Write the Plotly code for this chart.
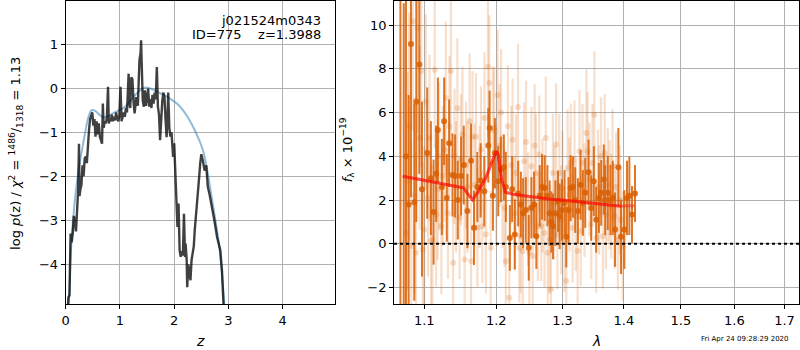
import math
import plotly.graph_objects as go

# ---------------- left panel: log p(z) ----------------
pz_z = [0.03, 0.05, 0.07, 0.09, 0.11, 0.13, 0.15, 0.17, 0.19, 0.21, 0.23, 0.245, 0.255, 0.27, 0.29,
        0.31, 0.33, 0.35, 0.37, 0.39, 0.41, 0.43, 0.45, 0.47, 0.49, 0.51, 0.53, 0.55, 0.57, 0.59,
        0.61, 0.63, 0.65, 0.67, 0.685, 0.70, 0.72, 0.74, 0.76, 0.78, 0.795, 0.81, 0.83, 0.85, 0.87,
        0.89, 0.91, 0.93, 0.95, 0.97, 0.99, 1.01, 1.03, 1.05, 1.07, 1.09, 1.11, 1.13, 1.16, 1.175,
        1.19, 1.21, 1.23, 1.25, 1.27, 1.285, 1.30, 1.33, 1.36, 1.38, 1.39, 1.40, 1.42, 1.44, 1.46,
        1.48, 1.50, 1.52, 1.54, 1.56, 1.58, 1.60, 1.62, 1.64, 1.66, 1.68, 1.70, 1.72, 1.74, 1.76,
        1.78, 1.80, 1.82, 1.84, 1.86, 1.88, 1.89, 1.91, 1.93, 1.95, 1.97, 1.98, 2.00, 2.02, 2.03,
        2.05, 2.06, 2.08, 2.10, 2.12, 2.14, 2.16, 2.18, 2.20, 2.21, 2.23, 2.24, 2.26, 2.28, 2.30,
        2.32, 2.34, 2.36, 2.38, 2.40, 2.43, 2.46, 2.48, 2.50, 2.53, 2.56, 2.59, 2.62, 2.65, 2.70,
        2.74, 2.79, 2.82, 2.85, 2.88, 2.90, 2.92]
pz_logp = [-5.2, -4.75, -4.7, -3.3, -3.5, -3.3, -2.9, -3.0, -3.25, -2.6, -2.3, -1.26, -2.45, -2.3, -2.2,
           -1.75, -2.0, -1.6, -1.55, -1.7, -1.2, -0.95, -0.7, -0.6, -0.55, -0.85, -0.7, -1.1, -0.75, -1.05,
           -0.8, -1.1, -1.2, -1.26, -0.35, -0.9, -0.75, -0.8, -0.65, 0.03, -0.8, -0.7, -0.75, -0.6, -0.75,
           -0.65, -0.73, -0.55, -0.7, -0.75, -0.6, 0.03, -0.75, -0.6, -0.55, -0.65, -0.45, -0.55, 0.33, -0.35,
           -0.45, 0.25, 0.2, -0.3, -0.57, -0.4, -0.2, -0.4, 0.64, 0.8, 1.09, 0.6, -0.27, -0.42, -0.05,
           -0.4, -0.15, -0.01, -0.42, -0.25, -0.45, -0.15, -0.35, -0.1, -0.25, 0.48, -0.42, -0.6, -1.18, -0.6,
           -0.3, -0.1, -0.2, -0.7, -1.11, -0.5, -0.1, -0.9, -1.1, -1.0, -1.3, -1.56, -1.25, -1.8, -2.02,
           -2.7, -3.15, -2.62, -3.68, -3.83, -3.7, -3.8, -2.85, -3.83, -3.53, -3.9, -4.52, -4.0, -4.2, -4.36,
           -3.9, -3.68, -3.6, -3.2, -2.85, -2.55, -2.02, -1.7, -1.5, -1.65, -1.87, -1.75, -2.24, -2.4, -2.7,
           -3.0, -3.38, -3.53, -3.68, -4.14, -4.74, -5.2]

prior_z = [0.05, 0.08, 0.11, 0.15, 0.2, 0.25, 0.3, 0.36, 0.42, 0.48, 0.55, 0.62, 0.7, 0.78, 0.86,
           0.95, 1.05, 1.15, 1.25, 1.35, 1.45, 1.55, 1.65, 1.75, 1.85, 1.95, 2.05, 2.15, 2.25, 2.35,
           2.45, 2.53, 2.6, 2.66, 2.72, 2.78, 2.83, 2.87, 2.9, 2.94]
prior_logp = [-5.2, -4.2, -3.4, -2.8, -2.2, -1.75, -1.4, -1.0, -0.65, -0.5, -0.52, -0.6, -0.66, -0.64, -0.58,
              -0.52, -0.46, -0.35, -0.2, -0.07, 0.01, 0.0, -0.06, -0.12, -0.18, -0.26, -0.35, -0.48, -0.66, -0.88,
              -1.15, -1.41, -1.8, -2.24, -2.7, -3.15, -3.6, -4.06, -4.5, -5.2]

# ---------------- right panel: spectrum ----------------
light_lam = [1.076, 1.078, 1.080, 1.083, 1.085, 1.087, 1.089, 1.091, 1.094, 1.096,
             1.098, 1.100, 1.102, 1.105, 1.107, 1.109, 1.111, 1.114, 1.116, 1.118,
             1.120, 1.123, 1.125, 1.127, 1.129, 1.132, 1.134, 1.136, 1.139, 1.141,
             1.143, 1.145, 1.148, 1.150, 1.152, 1.155, 1.157, 1.159, 1.162, 1.164,
             1.166, 1.169, 1.171, 1.173, 1.176, 1.178, 1.180, 1.183, 1.185, 1.188,
             1.190, 1.192, 1.195, 1.197, 1.200, 1.202, 1.205, 1.207, 1.209, 1.212,
             1.214, 1.217, 1.219, 1.222, 1.224, 1.227, 1.229, 1.232, 1.234, 1.236,
             1.239, 1.241, 1.244, 1.247, 1.249, 1.252, 1.254, 1.257, 1.259, 1.262,
             1.264, 1.267, 1.269, 1.272, 1.274, 1.277, 1.280, 1.282, 1.285, 1.287,
             1.290, 1.292, 1.295, 1.298, 1.300, 1.303, 1.306, 1.308, 1.311, 1.313,
             1.316, 1.319, 1.321, 1.324, 1.327, 1.329, 1.332, 1.335, 1.338, 1.340,
             1.343, 1.346, 1.348, 1.351, 1.354, 1.357, 1.359, 1.362, 1.365, 1.368,
             1.370, 1.373, 1.376, 1.379, 1.381, 1.384, 1.387, 1.390, 1.393, 1.395, 1.398]
light_flux = [0.5, 2.86, 5.37, -0.1, 10.17, 2.2, -0.41, 9.86, 4.84, 7.9,
              -0.26, 0.65, 6.5, 2.1, 4.84, 0.12, 0.2, 7.96, 1.34, 2.48,
              4.0, 0.8, 3.1, 4.3, 6.67, 1.4, 5.37, 7.9, -0.87, 4.0,
              2.6, 6.2, 1.19, 3.85, 5.0, -0.72, 3.6, 2.6, 5.6, -0.8,
              4.9, 2.7, 4.9, 0.73, 2.6, 4.3, 0.8, 5.75, 0.43, 8.1,
              7.35, -0.18, 5.2, 5.3, 2.6, 6.8, 4.5, 6.0, 2.4, 1.64,
              -0.8, 5.37, -2.47, 3.6, 4.76, 1.4, 3.24, 6.25, -0.18, 0.35,
              -0.33, 3.77, 4.66, 1.57, -0.41, 3.55, -0.56, 4.5, 3.24, 0.8,
              4.08, 0.8, 2.2, 0.5, 4.84, -0.41, 0.2, -2.08, 3.24, 1.87,
              4.54, 0.43, 3.24, 1.1, 2.56, 0.2, -1.7, 3.47, 2.25, 3.7,
              0.73, 3.85, 1.26, -0.33, 4.23, 0.58, 3.7, 2.0, 5.07, 4.23,
              2.94, 0.88, 3.7, 5.9, 0.27, 2.6, 2.0, 4.0, 0.35, 4.15,
              1.34, 2.7, 2.25, 1.72, 3.55, 1.26, 2.6, 0.2, 2.0, 1.1, -0.1]
light_err = [5.5, 5.0, 5.2, 4.8, 5.0, 4.5, 4.6, 4.8, 4.2, 4.4,
             4.0, 3.8, 4.0, 3.6, 3.8, 3.5, 3.4, 3.6, 3.3, 3.2,
             3.4, 3.1, 3.2, 3.3, 3.5, 3.0, 3.2, 3.4, 2.9, 3.1,
             3.0, 3.2, 2.8, 3.0, 3.1, 2.8, 2.9, 3.0, 3.1, 2.7,
             3.0, 2.8, 2.9, 2.7, 2.8, 2.9, 2.6, 3.0, 2.7, 3.2,
             3.1, 2.6, 2.9, 2.8, 2.7, 3.0, 2.8, 2.9, 2.6, 2.7,
             2.6, 2.8, 2.5, 2.7, 2.8, 2.6, 2.7, 2.9, 2.5, 2.6,
             2.5, 2.7, 2.8, 2.6, 2.5, 2.7, 2.5, 2.8, 2.7, 2.5,
             2.7, 2.5, 2.6, 2.5, 2.8, 2.4, 2.5, 2.4, 2.7, 2.6,
             2.8, 2.5, 2.7, 2.5, 2.6, 2.4, 2.5, 2.7, 2.6, 2.7,
             2.5, 2.7, 2.5, 2.4, 2.8, 2.5, 2.7, 2.6, 2.9, 2.7,
             2.6, 2.5, 2.7, 2.9, 2.5, 2.6, 2.5, 2.7, 2.4, 2.7,
             2.5, 2.6, 2.5, 2.4, 2.6, 2.4, 2.5, 2.3, 2.5, 2.4, 2.5]

dark_lam = [1.0688, 1.0731, 1.0760, 1.0795, 1.0825, 1.0869, 1.0895, 1.0935, 1.0970, 1.1040,
            1.1089, 1.1125, 1.1160, 1.1183, 1.1237, 1.1268, 1.1304, 1.1336, 1.1382, 1.1418,
            1.1455, 1.1501, 1.1538, 1.1589, 1.1640, 1.1682, 1.1729, 1.1776, 1.1828, 1.1885,
            1.1904, 1.1952, 1.1981, 1.2029, 1.2067, 1.2111, 1.2140, 1.2199, 1.2233, 1.2272,
            1.2322, 1.2362, 1.2396, 1.2436, 1.2481, 1.2521, 1.2561, 1.2596, 1.2647, 1.2683,
            1.2724, 1.2765, 1.2800, 1.2826, 1.2852, 1.2888, 1.2929, 1.2955, 1.2991, 1.3033,
            1.3059, 1.3096, 1.3127, 1.3165, 1.3201, 1.3244, 1.3287, 1.3324, 1.3362, 1.3416,
            1.3459, 1.3502, 1.3540, 1.3584, 1.3622, 1.3665, 1.3687, 1.3731, 1.3775, 1.3814,
            1.3853, 1.3908, 1.3953, 1.4009, 1.4054, 1.4094, 1.4139, 1.4190]
dark_flux = [12.0, -3.0, 4.0,
             1.8, 9.13, 1.9, 6.5, 8.2, 2.5, 4.15, 3.0, 1.45, 3.2,
             5.2, 2.6, 5.6, 2.1, 4.6, 3.15, 3.1, 2.0, 3.1, 3.6,
             1.5, 3.8, 0.73, 2.6, 2.9, 2.4, 4.5, 5.3, 2.2, 4.15,
             2.86, 3.4, 3.5, 2.6, 0.27, 2.5, 0.43, 2.3, 1.8, 1.4,
             1.55, -0.18, 1.65, 1.8, 0.35, 2.2, 2.6, 2.55, 2.2, 1.4,
             1.0, 0.8, 1.4, 1.95, 1.26, 1.55, 1.87, 0.32, 1.55, 2.55,
             2.6, 2.0, 1.5, 2.7, 1.87, 2.33, 3.27, 1.64, 2.86, 1.1,
             2.1, 2.33, 2.94, 2.0, 2.33, 2.0, 2.1, 0.65, 3.5, 0.32,
             0.65, 2.1, 2.2, 1.34, 2.3]
dark_err = [15.0, 14.0, 10.0, 5.0, 7.0, 4.5, 5.5, 5.0, 4.0, 3.0,
            2.6, 2.4, 2.2, 2.4, 2.2, 2.0, 2.0, 2.0, 1.9, 1.9,
            1.8, 1.8, 1.8, 1.7, 1.7, 1.7, 1.6, 1.7, 1.6, 1.7,
            1.7, 1.6, 1.6, 1.6, 1.5, 1.5, 1.6, 1.5, 1.5, 1.6,
            1.5, 1.5, 1.6, 1.5, 1.5, 1.4, 1.5, 1.5, 1.4, 1.5,
            1.5, 1.4, 1.5, 1.4, 1.5, 1.5, 1.4, 1.5, 1.4, 1.5,
            1.4, 1.5, 1.5, 1.4, 1.5, 1.5, 1.6, 1.5, 1.6, 1.5,
            1.5, 1.6, 1.5, 1.6, 1.5, 1.6, 1.6, 1.7, 1.6, 1.7,
            1.7, 1.8, 1.7, 1.8, 1.7, 1.8, 1.3, 1.3]

model_lam = [1.0718, 1.0840, 1.1102, 1.1327, 1.1535, 1.1584, 1.1659, 1.1744, 1.1838, 1.1933,
             1.2000, 1.2029, 1.2077, 1.2135, 1.2272, 1.2521, 1.2774, 1.3033, 1.3298, 1.3567,
             1.3841, 1.3953, 1.4080, 1.4180]
model_flux = [3.09, 3.01, 2.86, 2.71, 2.56, 2.33, 2.02, 2.4, 2.94, 3.7,
              4.23, 4.08, 2.94, 2.36, 2.25, 2.15, 2.05, 1.99, 1.92, 1.84,
              1.77, 1.72, 1.74, 1.74]
model_short_end = 22  # first model only covers up to 1.395

lam_ticks = [1.1, 1.2, 1.3, 1.4, 1.5, 1.6, 1.7]

FONT = "DejaVu Sans"
ORANGE_DARK = "rgba(217,95,2,0.85)"
ORANGE_LIGHT = "rgba(217,95,2,0.2)"

fig = go.Figure()

fig.add_trace(go.Scatter(x=prior_z, y=prior_logp, mode="lines",
                         line=dict(color="rgba(31,119,180,0.5)", width=2, shape="spline"),
                         xaxis="x", yaxis="y", showlegend=False, hoverinfo="skip"))
fig.add_trace(go.Scatter(x=pz_z, y=pz_logp, mode="lines",
                         line=dict(color="rgba(0,0,0,0.75)", width=2.4),
                         xaxis="x", yaxis="y", showlegend=False))

fig.add_trace(go.Scatter(x=light_lam, y=light_flux, mode="markers",
                         marker=dict(color=ORANGE_LIGHT, size=6),
                         error_y=dict(type="data", array=light_err, color=ORANGE_LIGHT,
                                      thickness=2.2, width=0),
                         xaxis="x2", yaxis="y2", showlegend=False))
fig.add_trace(go.Scatter(x=dark_lam, y=dark_flux, mode="markers",
                         marker=dict(color=ORANGE_DARK, size=6),
                         error_y=dict(type="data", array=dark_err, color=ORANGE_DARK,
                                      thickness=2, width=0),
                         xaxis="x2", yaxis="y2", showlegend=False))
fig.add_trace(go.Scatter(x=model_lam[:model_short_end], y=model_flux[:model_short_end], mode="lines",
                         line=dict(color="rgba(255,0,0,0.45)", width=3),
                         xaxis="x2", yaxis="y2", showlegend=False))
fig.add_trace(go.Scatter(x=model_lam, y=model_flux, mode="lines",
                         line=dict(color="rgba(255,0,0,0.4)", width=3),
                         xaxis="x2", yaxis="y2", showlegend=False))

axis_style = dict(showline=True, linecolor="black", linewidth=1, mirror=True,
                  ticks="outside", ticklen=4, tickwidth=1, tickcolor="black",
                  showgrid=True, gridcolor="#b0b0b0", gridwidth=1, zeroline=False,
                  tickfont=dict(family=FONT, size=13, color="black"))

ytop = 349 / 350
ybot = 46 / 350

fig.update_layout(
    width=800, height=350,
    margin=dict(l=0, r=0, t=0, b=0),
    paper_bgcolor="white", plot_bgcolor="white",
    font=dict(family=FONT, size=13, color="black"),
    xaxis=dict(domain=[62 / 800, 333 / 800], range=[0, 4.97], tick0=0, dtick=1,
               anchor="y", **axis_style),
    yaxis=dict(domain=[ybot, ytop], range=[-4.9, 1.98], tick0=0, dtick=1,
               anchor="x", **axis_style),
    xaxis2=dict(domain=[392 / 800, 799 / 800], type="log",
                range=[math.log10(1.0606), math.log10(1.730)],
                tickvals=lam_ticks, ticktext=[str(v) for v in lam_ticks],
                anchor="y2", **axis_style),
    yaxis2=dict(domain=[ybot, ytop], range=[-2.75, 11.1], tick0=0, dtick=2,
                anchor="x2", **axis_style),
    shapes=[dict(type="line", xref="x2 domain", yref="y2", x0=0, x1=1, y0=0, y1=0,
                 line=dict(color="black", width=2, dash="dot"), layer="above")],
    annotations=[
        dict(text="j021524m0343", xref="paper", yref="paper", x=321 / 800, y=1 - 20 / 350,
             xanchor="right", yanchor="middle", showarrow=False, font=dict(size=13)),
        dict(text="ID=775    z=1.3988", xref="paper", yref="paper", x=321 / 800, y=1 - 35 / 350,
             xanchor="right", yanchor="middle", showarrow=False, font=dict(size=13)),
        dict(text="<i>z</i>", xref="paper", yref="paper", x=197 / 800, y=1 - 341 / 350,
             xanchor="center", yanchor="middle", showarrow=False, font=dict(size=14)),
        dict(text="<i>λ</i>", xref="paper", yref="paper", x=595 / 800, y=1 - 341 / 350,
             xanchor="center", yanchor="middle", showarrow=False, font=dict(size=14)),
        dict(text="log <i>p</i>(z) / <i>χ</i><sup>2</sup> = <sup>1486</sup>/<sub>1318</sub> = 1.13",
             xref="paper", yref="paper", x=12 / 800, y=1 - 153 / 350, textangle=-90,
             xanchor="center", yanchor="middle", showarrow=False, font=dict(size=13)),
        dict(text="<i>f</i><sub>λ</sub> × 10<sup>−19</sup>",
             xref="paper", yref="paper", x=345 / 800, y=1 - 150 / 350, textangle=-90,
             xanchor="center", yanchor="middle", showarrow=False, font=dict(size=13)),
        dict(text="Fri Apr 24 09:28:29 2020", xref="paper", yref="paper", x=745 / 800,
             y=1 - 339 / 350, xanchor="center", yanchor="middle", showarrow=False,
             font=dict(size=7)),
    ],
)

fig.write_html("out.html", config={"displayModeBar": False},
               post_script="document.body.style.margin='0';document.body.style.padding='0';")
